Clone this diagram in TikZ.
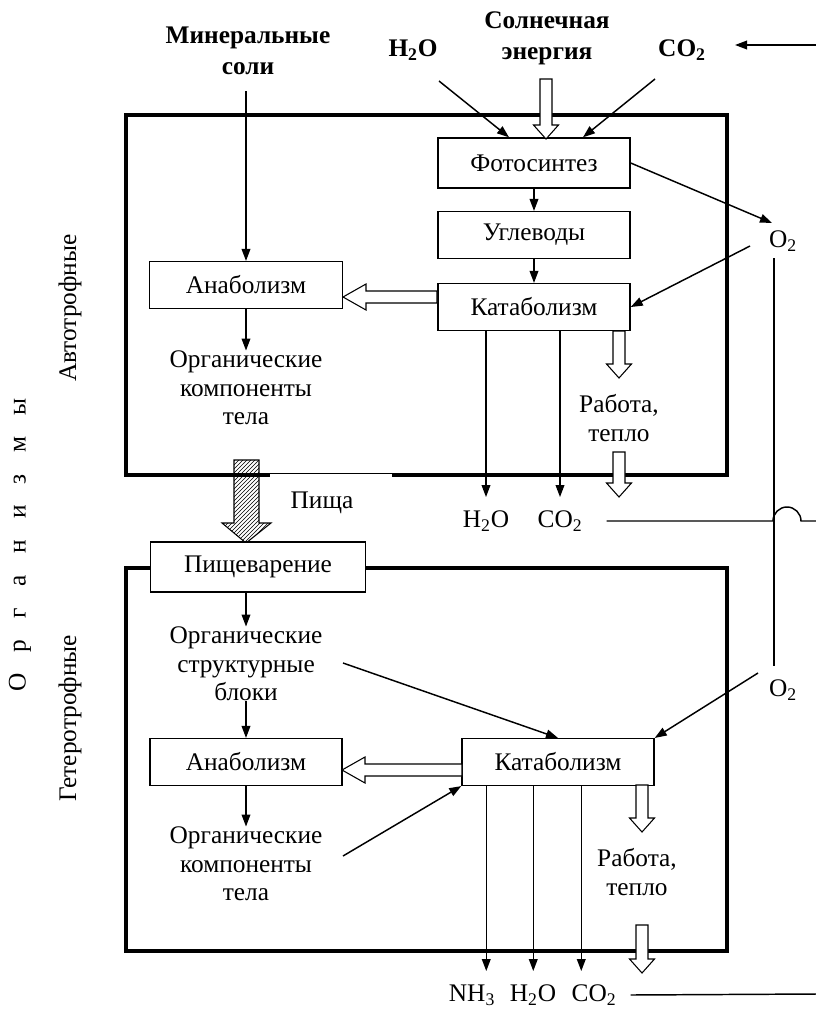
\documentclass[tikz,border=0pt]{standalone}
\usepackage{fontspec}
\setmainfont{Liberation Serif}
\usetikzlibrary{arrows.meta,patterns,calc}

\tikzset{
  box/.style={draw,line width=1.1pt,fill=white,inner sep=0pt,minimum width=144pt,minimum height=35pt},
  frame/.style={line width=3pt},
  conn/.style={line width=1.1pt,-{Triangle[length=9pt,width=6.5pt]}},
  wire/.style={line width=1.1pt},
  txt/.style={align=center,inner sep=0pt},
  hd/.style={align=center,inner sep=0pt,font=\fontsize{19}{23}\selectfont\bfseries},
  hollow/.style={line width=0.8pt,fill=white},
}
% hollow block arrows: x, y from, y tip  /  x from, x tip, y
\newcommand{\hollowdown}[3]{%
  \draw[hollow] (#1-6,#2) -- (#1+6,#2) -- (#1+6,#3-14) -- (#1+12.5,#3-14)
    -- (#1,#3) -- (#1-12.5,#3-14) -- (#1-6,#3-14) -- cycle;}
\newcommand{\hollowleft}[3]{%
  \draw[hollow] (#1,#3-6) -- (#2+23,#3-6) -- (#2+23,#3-13) -- (#2,#3)
    -- (#2+23,#3+13) -- (#2+23,#3+6) -- (#1,#3+6) -- cycle;}

\begin{document}
\begin{tikzpicture}[x=0.75pt,y=-0.75pt,font=\fontsize{19}{21.5}\selectfont]
\useasboundingbox (0,0) rectangle (816,1011);

% frames
\draw[frame] (126,115) rectangle (727,475);
\draw[frame] (126,568) rectangle (727,951);
\fill[white] (270,473.8) rectangle (392,478);

% inputs
\node[hd] (mins) at (248,51) {Минеральные\\соли};
\node[hd] (sun) at (547,38) {Солнечная\\энергия};
\node[hd] (h2oin) at (413,50) {H\textsubscript{2}O};
\node[hd] (co2in) at (682,50) {CO\textsubscript{2}};
\coordinate (co2src) at (816,45);
\coordinate (co2tip) at (735,45);
\draw[conn] (co2src) -- (co2tip);

% autotrophs
\node[box,minimum height=37.5pt] (photo) at (534,163) {Фотосинтез};
\node[box] (carb) at (534,235) {Углеводы};
\node[box] (catA) at (534,307) {Катаболизм};
\node[box,minimum width=145pt] (anaA) at (246,285) {Анаболизм};
\node[txt] (orgA) at (246,388) {Органические\\компоненты\\тела};

\coordinate (mfrom) at (246,91);
\coordinate (h2ofrom) at (439,81);
\coordinate (co2from) at (655,79);
\draw[conn] (mfrom) -- (anaA.north);
\draw[conn] (h2ofrom) -- ($(photo.north)+(-25,0)$);
\draw[conn] (co2from) -- ($(photo.north)+(49,0)$);
\hollowdown{546}{79}{139}
\draw[conn] (photo) -- (carb);
\draw[conn] (carb) -- (catA);
\hollowleft{437}{343}{297}
\draw[conn] (anaA) -- (orgA);

% O2
\node[txt] (o2a) at (783,241) {O\textsubscript{2}};
\node[txt] (o2b) at (783,690) {O\textsubscript{2}};
\coordinate (o2ain) at (772,223);
\coordinate (o2aout) at (750,246);
\coordinate (o2bout) at (758,673);
\coordinate (vtop) at (774,258);
\coordinate (vbot) at (774,666);
\draw[conn] (photo.east) -- (o2ain);
\draw[conn] (o2aout) -- (catA.east);
\draw[wire] (vtop) -- (vbot);

% outputs of autotrophs
\node[txt] (h2oA) at (486,521) {H\textsubscript{2}O};
\node[txt] (co2A) at (560,521) {CO\textsubscript{2}};
\draw[conn] (catA.south -| h2oA) -- ++(0,166);
\draw[conn] (catA.south -| co2A) -- ++(0,166);
\hollowdown{619}{331}{378}
\node[txt] (workA) at (619,418) {Работа,\\тепло};
\hollowdown{619}{452}{497}
\draw[wire] ($(co2A.east)+(24,0)$) -- (773,521) arc[start angle=180,end angle=360,radius=14] -- (816,521);

% food
\draw[line width=0.8pt,pattern=north east lines] (234,460) -- (259,460) -- (259,523) -- (271,523)
  -- (246,543) -- (222,523) -- (234,523) -- cycle;
\node[txt] (food) at (322,503) {Пища};

% heterotrophs
\node[box,minimum width=161pt,minimum height=37.5pt] (digest) at (258,567) {Пищеварение};
\node[txt] (orgB) at (246,664) {Органические\\структурные\\блоки};
\node[box] (anaB) at (246,762) {Анаболизм};
\node[box] (catB) at (558,762) {Катаболизм};
\node[txt] (orgC) at (246,864) {Органические\\компоненты\\тела};

\coordinate (blk) at (343,663);
\coordinate (cmp) at (343,856);
\draw[conn] (digest.south -| orgB) -- (orgB.north);
\draw[conn] (orgB) -- (anaB);
\draw[conn] (blk) -- (catB.north);
\draw[conn] (o2bout) -- (catB.north east);
\hollowleft{462}{342}{770}
\draw[conn] (anaB) -- (orgC);
\draw[conn] (cmp) -- (catB.south west);

% outputs of heterotrophs
\node[txt] (nh3) at (472,995) {NH\textsubscript{3}};
\node[txt] (h2oB) at (533,995) {H\textsubscript{2}O};
\node[txt] (co2B) at (594,995) {CO\textsubscript{2}};
\foreach \dx in {25,72,120}
  \draw[conn] (catB.south west) ++(\dx,0) -- ++(0,185);
\hollowdown{642}{785}{832}
\node[txt] (workB) at (637,872) {Работа,\\тепло};
\hollowdown{642}{925}{973}
\draw[wire] ($(co2B.east)+(14,0)$) -- (816,994);

% side labels
\node[txt,rotate=90] (auto) at (70,308) {Автотрофные};
\node[txt,rotate=90] (hetero) at (70,718) {Гетеротрофные};
\node[txt,rotate=90] (orgs) at (20,545) {О\hspace{16pt}р\hspace{16pt}г\hspace{16pt}а\hspace{16pt}н\hspace{16pt}и\hspace{16pt}з\hspace{16pt}м\hspace{16pt}ы};
\end{tikzpicture}
\end{document}
